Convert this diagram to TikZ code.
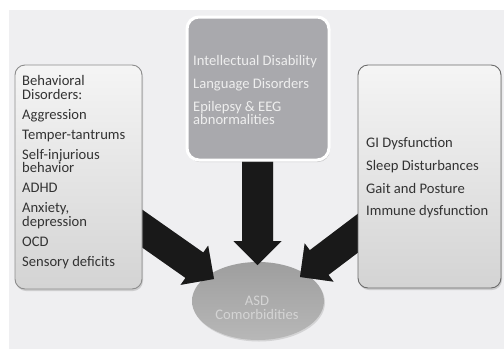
\documentclass[tikz,border=0pt]{standalone}
\usepackage{fontspec}
\setmainfont{Carlito}
\usetikzlibrary{calc,shadows,shapes.geometric}
\definecolor{bgc}{HTML}{EFEFF1}
\definecolor{txtdark}{HTML}{333333}
\definecolor{txtlight}{HTML}{EEEEEE}
\definecolor{topfill}{HTML}{A9A9AD}
\tikzset{
  sidebox/.style={draw=#1, line width=0.9pt, rounded corners=10pt, top color=white!96!black, bottom color=black!17,
     drop shadow={shadow xshift=1pt, shadow yshift=-2pt, opacity=0.3}, inner sep=0pt},
  topbox/.style={draw=white, line width=3pt, rounded corners=12pt, fill=topfill,
     drop shadow={shadow xshift=1pt, shadow yshift=-2pt, opacity=0.35}, inner sep=0pt},
  itemtext/.style={align=left, inner sep=0pt, anchor=west, font=\fontsize{14.6}{13.5}\selectfont},
  bigarrow/.style={fill=black!90},
  arrowshadow/.style={fill=black, opacity=0.25},
}
\newcommand\fatarrow[3]{%
  \coordinate (hb#3) at ($(#2)!24pt!(#1)$);
  \fill[arrowshadow, xshift=1.2pt, yshift=-1.2pt] ($(#1)!15.5pt!90:(#2)$) -- ($(hb#3)!15.5pt!-90:(#1)$) -- ($(hb#3)!24pt!-90:(#1)$) -- (#2) -- ($(hb#3)!24pt!90:(#1)$) -- ($(hb#3)!15.5pt!90:(#1)$) -- ($(#1)!15.5pt!-90:(#2)$) -- cycle;
  \fill[bigarrow] ($(#1)!15.5pt!90:(#2)$) -- ($(hb#3)!15.5pt!-90:(#1)$) -- ($(hb#3)!24pt!-90:(#1)$) -- (#2) -- ($(hb#3)!24pt!90:(#1)$) -- ($(hb#3)!15.5pt!90:(#1)$) -- ($(#1)!15.5pt!-90:(#2)$) -- cycle;
}
\begin{document}
\begin{tikzpicture}[x=1pt, y=-1pt]
\useasboundingbox (0,0) rectangle (504,349);
\fill[white] (0,0) rectangle (504,349);
\fill[bgc] (9,10) rectangle (504,349);

% central ellipse
\node[ellipse, minimum width=132pt, minimum height=78pt, inner sep=0pt,
  top color=black!38, bottom color=black!28,
  drop shadow={shadow xshift=1pt, shadow yshift=-1.5pt, opacity=0.25}] (asd) at (258,301) {};
\node[align=center, inner sep=0pt, text=black!17, font=\fontsize{14.6}{14}\selectfont] (asdtext) at (257,308) {ASD\\Comorbidities};

% arrow endpoints
\coordinate (sL) at (120,213);
\coordinate (tL) at (214,279);
\coordinate (sT) at (257.5,140);
\coordinate (tT) at (257.5,265);
\coordinate (sR) at (380,216.5);
\coordinate (tR) at (300,277);
\fatarrow{sL}{tL}{l}
\fatarrow{sT}{tT}{t}
\fatarrow{sR}{tR}{r}

% boxes
\node[sidebox=black!45, minimum width=127pt, minimum height=224pt] (left) at (78.5,177) {};
\node[topbox, minimum width=142pt, minimum height=143pt] (top) at (258,88.5) {};
\node[sidebox=black!58, minimum width=143pt, minimum height=223pt] (right) at (429.5,176.5) {};

\node[itemtext, text=txtdark] (lefttext) at (22,172) {Behavioral\\Disorders:\\[6.5pt]Aggression\\[6.5pt]Temper-tantrums\\[6.5pt]Self-injurious\\behavior\\[6.5pt]ADHD\\[6.5pt]Anxiety,\\depression\\[6.5pt]OCD\\[6.5pt]Sensory deficits};
\node[itemtext, text=txtlight] (toptext) at (193,90) {Intellectual Disability\\[9pt]Language Disorders\\[9.5pt]Epilepsy \& EEG\\abnormalities};
\node[itemtext, text=txtdark] (righttext) at (366,178) {GI Dysfunction\\[9.2pt]Sleep Disturbances\\[9.2pt]Gait and Posture\\[9.2pt]Immune dysfunction};
\end{tikzpicture}
\end{document}
